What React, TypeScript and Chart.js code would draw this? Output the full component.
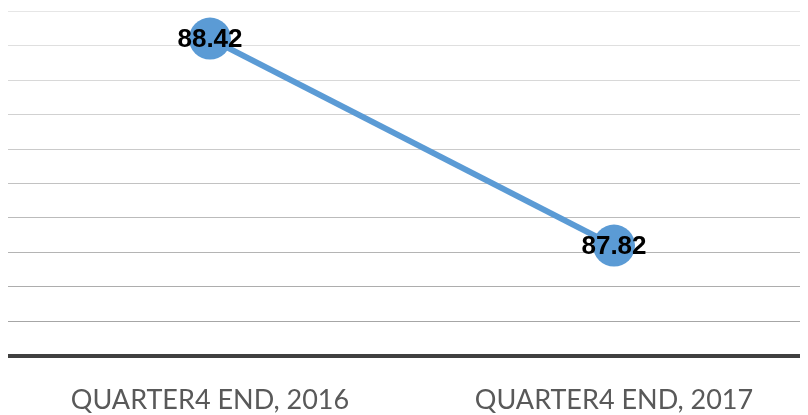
import React, { useEffect, useRef } from "react";
import { Chart, registerables } from "chart.js";

Chart.register(...registerables);

const categories = ["QUARTER4 END, 2016", "QUARTER4 END, 2017"];
const values = [88.42, 87.82];
const yMin = 87.5;
const yMax = 88.5;
const yStep = 0.1;

const lerpGray = (t: number) => {
  const a = 0xa6;
  const b = 0xe6;
  const v = Math.round(a + (b - a) * t);
  return `rgb(${v},${v},${v})`;
};

const labelPlugin = {
  id: "pointLabels",
  afterDatasetsDraw(chart: any) {
    const ctx = chart.ctx;
    const meta = chart.getDatasetMeta(0);
    ctx.save();
    ctx.font = 'bold 26px "Liberation Sans"';
    ctx.fillStyle = "#000000";
    ctx.textAlign = "center";
    ctx.textBaseline = "middle";
    meta.data.forEach((el: any, i: number) => {
      ctx.fillText(values[i].toFixed(2), el.x, el.y + 1);
    });
    ctx.restore();
  },
};

export default function App() {
  const ref = useRef<HTMLCanvasElement | null>(null);
  useEffect(() => {
    if (!ref.current) return;
    const chart = new Chart(ref.current, {
      type: "line",
      data: {
        labels: categories,
        datasets: [
          {
            data: values,
            borderColor: "#5B9BD5",
            backgroundColor: "#5B9BD5",
            borderWidth: 6,
            pointRadius: 21,
            pointHoverRadius: 21,
            pointBackgroundColor: "#5B9BD5",
            pointBorderWidth: 0,
            tension: 0,
            clip: false,
          },
        ],
      },
      options: {
        responsive: false,
        animation: false,
        layout: { autoPadding: false, padding: { top: 3, left: 0, right: 0, bottom: 0 } },
        plugins: { legend: { display: false }, tooltip: { enabled: false } },
        scales: {
          x: {
            offset: true,
            grid: { display: false, drawTicks: false },
            border: { display: true, color: "#404040", width: 4 },
            ticks: {
              color: "#595959",
              font: { family: "Lato", size: 27 },
              padding: 28,
              maxRotation: 0,
              autoSkip: false,
            },
            afterFit: (s: any) => {
              s.height = 59;
            },
          },
          y: {
            min: yMin,
            max: yMax,
            ticks: { display: false, stepSize: yStep },
            border: { display: false },
            grid: {
              drawTicks: false,
              lineWidth: 1,
              color: (c: any) => {
                const idx = c.index ?? 0;
                if (idx === 0) return "rgba(0,0,0,0)";
                return lerpGray((idx - 1) / 9);
              },
            },
            afterFit: (s: any) => {
              s.width = 0;
            },
          },
        },
      },
      plugins: [labelPlugin],
    });
    return () => chart.destroy();
  }, []);
  return (
    <div style={{ width: 800, height: 407, overflow: "hidden", position: "relative" }}>
      <canvas ref={ref} width={808} height={407} style={{ display: "block" }} />
    </div>
  );
}
